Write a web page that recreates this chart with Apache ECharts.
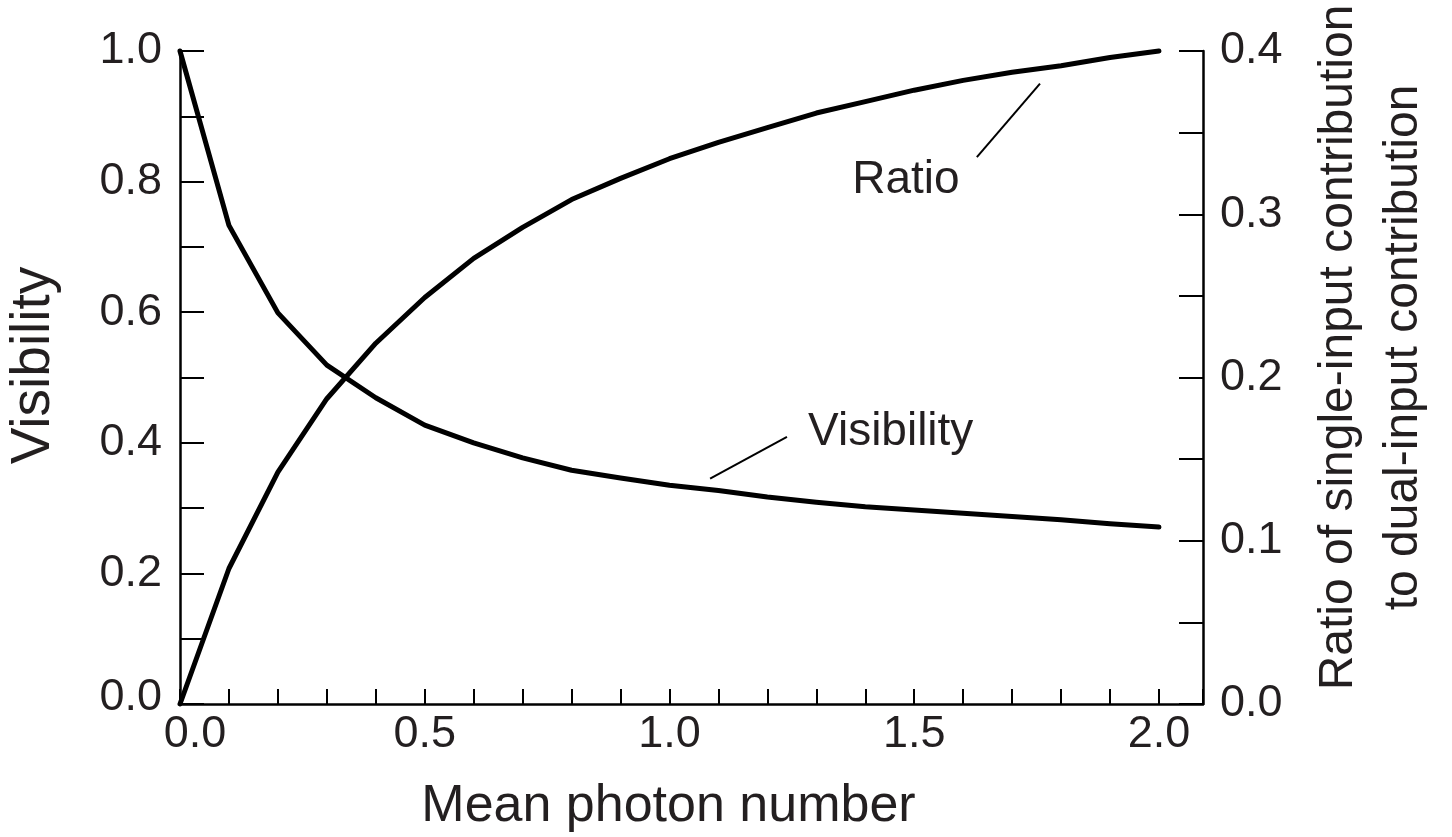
<!DOCTYPE html>
<html>
<head>
<meta charset="utf-8">
<script src="https://cdn.jsdelivr.net/npm/echarts@6/dist/echarts.min.js"></script>
<style>
  html, body { margin: 0; padding: 0; background: #fff; }
  #chart { width: 1452px; height: 837px; }
</style>
</head>
<body>
<div id="chart"></div>
<script>
// ---- Data ----
const photonNumber = [0.0, 0.1, 0.2, 0.3, 0.4, 0.5, 0.6, 0.7, 0.8, 0.9, 1.0,
                      1.1, 1.2, 1.3, 1.4, 1.5, 1.6, 1.7, 1.8, 1.9, 2.0];
const visibility = [1.000, 0.733, 0.599, 0.519, 0.469, 0.427, 0.400, 0.377, 0.358, 0.346, 0.335,
                    0.327, 0.317, 0.309, 0.302, 0.297, 0.292, 0.287, 0.282, 0.276, 0.271];
const ratio = [0.000, 0.083, 0.142, 0.187, 0.221, 0.249, 0.273, 0.292, 0.309, 0.322, 0.334,
               0.344, 0.353, 0.362, 0.369, 0.376, 0.382, 0.387, 0.391, 0.396, 0.400];
const xTickLabels = ['0.0', '0.5', '1.0', '1.5', '2.0'];
const leftTickLabels = ['0.0', '0.2', '0.4', '0.6', '0.8', '1.0'];
const rightTickLabels = ['0.0', '0.1', '0.2', '0.3', '0.4'];

const FONT = '"Liberation Sans", Arial, Helvetica, sans-serif';
const TXT = '#231f20';

function isMultiple(v, step) {
  const k = v / step;
  return Math.abs(k - Math.round(k)) < 1e-6;
}
function pickLabel(list, v, step) {
  if (!isMultiple(v, step)) return '';
  const idx = Math.round(v / step);
  return list[idx] !== undefined ? list[idx] : '';
}

const visPairs = photonNumber.map((x, i) => [x, visibility[i]]);
const ratioPairs = photonNumber.map((x, i) => [x, ratio[i]]);

const chart = echarts.init(document.getElementById('chart'), null, { renderer: 'canvas' });

const axisLineStyle = { color: '#000', width: 2.5 };
const tickStyle = { color: '#000', width: 2 };
const labelBase = { fontFamily: FONT, fontSize: 45, color: TXT };

chart.setOption({
  animation: false,
  backgroundColor: '#fff',
  grid: {
    left: 180, right: 249, top: 51, bottom: 133,
    containLabel: false, outerBoundsMode: 'none'
  },
  xAxis: {
    type: 'value',
    min: 0, max: 2.09, interval: 0.1,
    name: 'Mean photon number',
    nameLocation: 'middle',
    nameGap: 77,
    nameTextStyle: { fontFamily: FONT, fontSize: 52, color: TXT, padding: [0, 46, 0, 0] },
    axisLine: { show: true, onZero: false, lineStyle: axisLineStyle },
    axisTick: { show: true, inside: true, length: 15, lineStyle: tickStyle },
    axisLabel: Object.assign({}, labelBase, {
      margin: 8,
      showMinLabel: true, showMaxLabel: true, hideOverlap: false,
      formatter: function (v) {
        const s = pickLabel(xTickLabels, v, 0.5);
        if (s && Math.abs(v) < 1e-9) return '{a|' + s + '}';
        return s;
      },
      rich: { a: { fontFamily: FONT, fontSize: 45, color: TXT, padding: [0, 0, 0, 30] } }
    }),
    splitLine: { show: false }
  },
  yAxis: [
    {
      type: 'value',
      position: 'left',
      min: 0, max: 1, interval: 0.1,
      name: 'Visibility',
      nameLocation: 'middle',
      nameRotate: 90,
      nameGap: 119,
      nameTextStyle: { fontFamily: FONT, fontSize: 55, color: TXT, padding: [0, 0, 0, 24] },
      axisLine: { show: true, onZero: false, lineStyle: axisLineStyle },
      axisTick: { show: true, inside: true, length: 24, lineStyle: tickStyle },
      axisLabel: Object.assign({}, labelBase, {
        margin: 18,
        showMinLabel: true, showMaxLabel: true, hideOverlap: false,
        formatter: function (v) {
          const s = pickLabel(leftTickLabels, v, 0.2);
          if (s && Math.abs(v) < 1e-9) return '{b|' + s + '}';
          return s;
        },
        rich: { b: { fontFamily: FONT, fontSize: 45, color: TXT, padding: [0, 0, 12, 0] } }
      }),
      splitLine: { show: false }
    },
    {
      type: 'value',
      position: 'right',
      min: 0, max: 0.4, interval: 0.05,
      name: 'Ratio of single-input contribution\nto dual-input contribution',
      nameLocation: 'middle',
      nameRotate: 90,
      nameGap: 103,
      nameTextStyle: { fontFamily: FONT, fontSize: 48, lineHeight: 65, color: TXT, align: 'center', padding: [0, 0, 0, 60] },
      axisLine: { show: true, onZero: false, lineStyle: axisLineStyle },
      axisTick: { show: true, inside: true, length: 24, lineStyle: tickStyle },
      axisLabel: Object.assign({}, labelBase, {
        margin: 17,
        showMinLabel: true, showMaxLabel: true, hideOverlap: false,
        formatter: function (v) { return pickLabel(rightTickLabels, v, 0.1); }
      }),
      splitLine: { show: false }
    }
  ],
  series: [
    {
      name: 'Visibility',
      type: 'line',
      yAxisIndex: 0,
      data: visPairs,
      showSymbol: false,
      symbol: 'none',
      smooth: false,
      clip: false,
      lineStyle: { color: '#000', width: 5, join: 'round', cap: 'round' },
      emphasis: { disabled: true },
      markLine: {
        silent: true, symbol: ['none', 'none'], animation: false,
        label: { show: false },
        lineStyle: { color: '#000', width: 2, type: 'solid' },
        data: [[{ coord: [1.083, 0.345] }, { coord: [1.240, 0.409] }]]
      },
      markPoint: {
        silent: true, animation: false,
        symbol: 'rect', symbolSize: 1,
        itemStyle: { color: 'rgba(0,0,0,0)' },
        label: { show: true, position: 'inside', fontFamily: FONT, fontSize: 46, color: TXT },
        data: [{ coord: [1.452, 0.416], value: 'Visibility', label: { formatter: 'Visibility' } }]
      }
    },
    {
      name: 'Ratio',
      type: 'line',
      yAxisIndex: 1,
      data: ratioPairs,
      showSymbol: false,
      symbol: 'none',
      smooth: false,
      clip: false,
      lineStyle: { color: '#000', width: 5, join: 'round', cap: 'round' },
      emphasis: { disabled: true },
      markLine: {
        silent: true, symbol: ['none', 'none'], animation: false,
        label: { show: false },
        lineStyle: { color: '#000', width: 2, type: 'solid' },
        data: [[{ coord: [1.628, 0.335] }, { coord: [1.757, 0.380] }]]
      },
      markPoint: {
        silent: true, animation: false,
        symbol: 'rect', symbolSize: 1,
        itemStyle: { color: 'rgba(0,0,0,0)' },
        label: { show: true, position: 'inside', fontFamily: FONT, fontSize: 46, color: TXT },
        data: [{ coord: [1.483, 0.321], value: 'Ratio', label: { formatter: 'Ratio' } }]
      }
    }
  ]
});
</script>
</body>
</html>
